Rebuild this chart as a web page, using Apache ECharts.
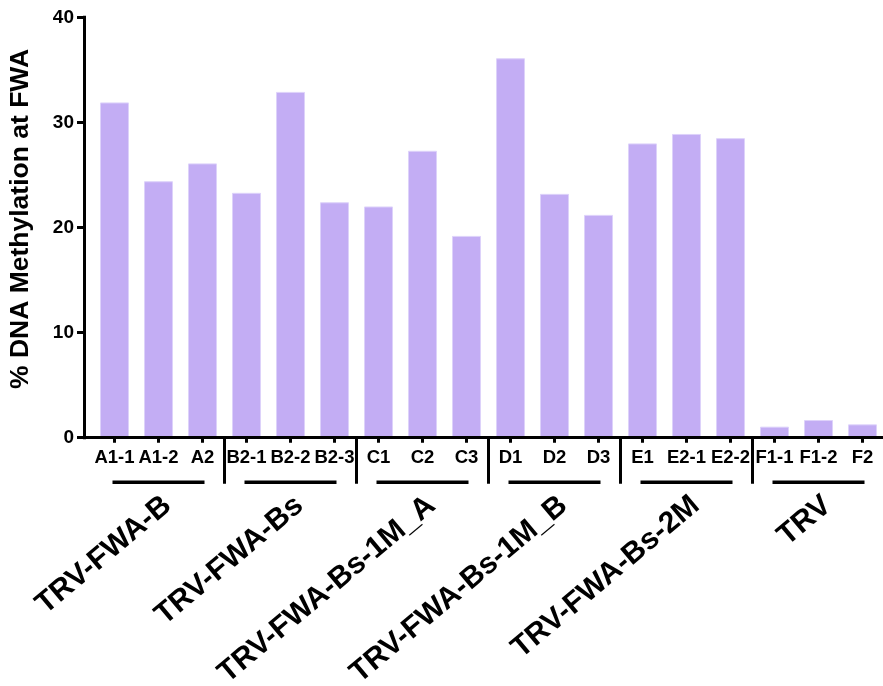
<!DOCTYPE html>
<html>
<head>
<meta charset="utf-8">
<script src="https://cdn.jsdelivr.net/npm/echarts@6/dist/echarts.min.js"></script>
<style>
  html, body { margin: 0; padding: 0; background: #fff; }
  #chart { width: 883px; height: 686px; }
</style>
</head>
<body>
<div id="chart"></div>
<script>
const samples = ["A1-1", "A1-2", "A2", "B2-1", "B2-2", "B2-3", "C1", "C2", "C3",
  "D1", "D2", "D3", "E1", "E2-1", "E2-2", "F1-1", "F1-2", "F2"];
const methylation = [31.9, 24.4, 26.1, 23.3, 32.9, 22.4, 22.0, 27.3, 19.2,
  36.1, 23.2, 21.2, 28.0, 28.9, 28.5, 1.05, 1.68, 1.27];
const groups = ["TRV-FWA-B", "TRV-FWA-Bs", "TRV-FWA-Bs-1M_A", "TRV-FWA-Bs-1M_B", "TRV-FWA-Bs-2M", "TRV"];
// first and last sample index of each group
const groupSpans = [[0, 2], [3, 5], [6, 8], [9, 11], [12, 14], [15, 17]];
const yMin = 0, yMax = 40, yStep = 10;

const font = "'Liberation Sans', Arial, sans-serif";
const plotTop = 17.3, plotHeight = 420.4;

const chart = echarts.init(document.getElementById("chart"), null, { renderer: "canvas" });

const option = {
  animation: false,
  backgroundColor: "#fff",
  grid: [
    // bars
    { left: 92.5, top: plotTop, width: 792, height: plotHeight, outerBoundsMode: "none" },
    // frame (y axis + x axis line)
    { left: 84, top: plotTop, width: 800, height: plotHeight, outerBoundsMode: "none" },
    // group labels, shifted right a bit
    { left: 101.5, top: plotTop, width: 792, height: plotHeight, outerBoundsMode: "none" },
  ],
  xAxis: [
    {
      type: "category", gridIndex: 0, position: "bottom", data: samples,
      axisLine: { show: false },
      axisTick: { show: true, alignWithLabel: true, length: 5, lineStyle: { color: "#000", width: 3 } },
      axisLabel: { interval: 0, margin: 11, fontFamily: font, fontSize: 18.5, fontWeight: "bold", color: "#000" },
      splitLine: { show: false },
    },
    {
      // group separators
      type: "category", gridIndex: 0, position: "bottom", data: groups,
      axisLine: { show: false },
      axisTick: { show: true, length: 46, interval: (i) => i > 0, lineStyle: { color: "#000", width: 3 } },
      axisLabel: { show: false },
      splitLine: { show: false },
    },
    {
      type: "value", gridIndex: 1, position: "bottom", min: 0, max: 1, z: 10,
      axisLine: { show: true, onZero: false, lineStyle: { color: "#000", width: 3, cap: "square" } },
      axisTick: { show: false }, axisLabel: { show: false }, splitLine: { show: false },
    },
    {
      type: "category", gridIndex: 2, position: "bottom", data: groups,
      axisLine: { show: false }, axisTick: { show: false }, splitLine: { show: false },
      axisLabel: { interval: 0, rotate: 40, margin: 64, fontFamily: font, fontSize: 30, fontWeight: "bold", color: "#000" },
    },
  ],
  yAxis: [
    { type: "value", gridIndex: 0, min: yMin, max: yMax, show: false },
    {
      type: "value", gridIndex: 1, min: yMin, max: yMax, interval: yStep, z: 10,
      name: "% DNA Methylation at FWA", nameLocation: "middle", nameGap: 50,
      nameTextStyle: { fontFamily: font, fontSize: 26.5, fontWeight: "bold", color: "#000", padding: [0, 0, 0, 17] },
      axisLine: { show: true, onZero: false, lineStyle: { color: "#000", width: 3, cap: "square" } },
      axisTick: { show: true, length: 7, lineStyle: { color: "#000", width: 3 } },
      axisLabel: { margin: 10, fontFamily: font, fontSize: 19, fontWeight: "bold", color: "#000" },
      splitLine: { show: false },
    },
    { type: "value", gridIndex: 2, min: yMin, max: yMax, show: false },
  ],
  series: [
    {
      type: "bar", xAxisIndex: 0, yAxisIndex: 0, data: methylation, barWidth: 29, silent: true,
      itemStyle: { color: "#c3adf4", borderColor: "#ddd2fa", borderWidth: 1 },
    },
    {
      // group underlines
      type: "custom", xAxisIndex: 0, yAxisIndex: 0, data: groupSpans, clip: false, silent: true,
      renderItem: function (params, api) {
        const a = api.coord([api.value(0), 0]);
        const b = api.coord([api.value(1), 0]);
        return {
          type: "line",
          shape: { x1: a[0] - 2, y1: a[1] + 44.5, x2: b[0] + 2, y2: a[1] + 44.5 },
          style: { stroke: "#000", lineWidth: 3.5 },
        };
      },
    },
  ],
};

chart.setOption(option);
</script>
</body>
</html>
